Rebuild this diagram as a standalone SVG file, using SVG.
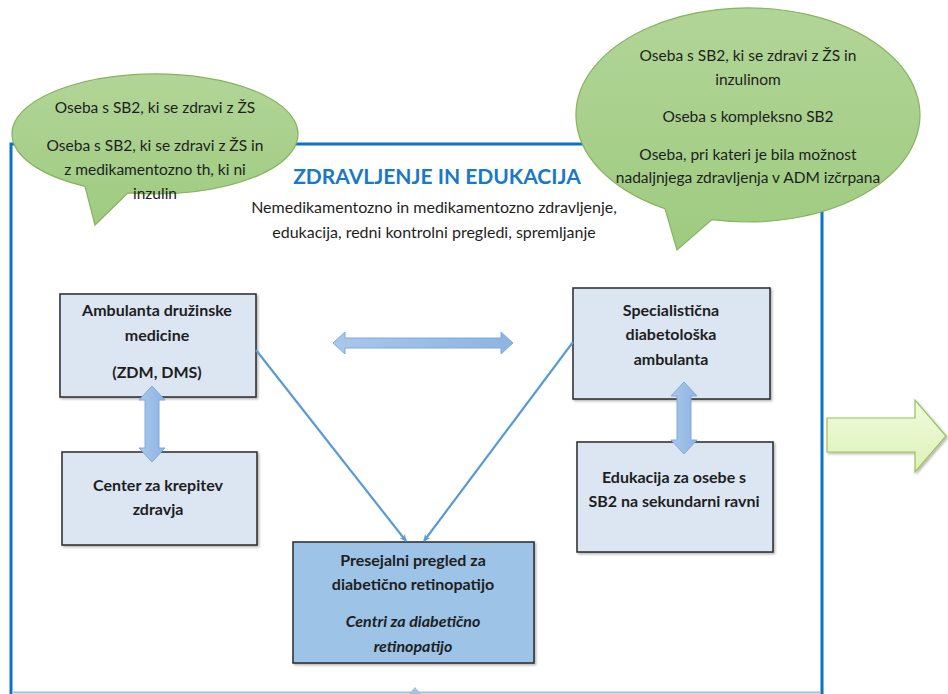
<svg xmlns="http://www.w3.org/2000/svg" width="948" height="694" viewBox="0 0 948 694">
<defs>
<style>
.t{font-family:Lato,"Liberation Sans",sans-serif;font-size:15.5px;fill:#1e1e1e;text-anchor:middle}
.b{font-weight:bold;font-size:16px}
.i{font-style:italic}
.box{fill:#dce6f2;stroke:#2a2a2a;stroke-width:1.5}
.bubble{fill:url(#gb);stroke:#86b35e;stroke-width:1.2}
.dbl{fill:url(#ga);stroke:#7fa9da;stroke-width:1}
.ln{stroke:#5b9bd5;stroke-width:2.2;fill:none}
.frame{fill:none;stroke:#0a72c8;stroke-width:3}
</style>
<linearGradient id="gb" x1="0" y1="0" x2="0" y2="1">
<stop offset="0" stop-color="#b1d597"/>
<stop offset="1" stop-color="#9fcb80"/>
</linearGradient>
<linearGradient id="ga" x1="0" y1="0" x2="1" y2="0">
<stop offset="0" stop-color="#a9c7ea"/>
<stop offset="1" stop-color="#8db4e2"/>
</linearGradient>
<linearGradient id="gg" x1="0" y1="0" x2="0" y2="1">
<stop offset="0" stop-color="#f1fadf"/>
<stop offset="1" stop-color="#dcf2b5"/>
</linearGradient>
<filter id="sh" x="-10%" y="-10%" width="130%" height="130%">
<feDropShadow dx="1.5" dy="1.5" stdDeviation="1.2" flood-color="#000" flood-opacity="0.3"/>
</filter>
<marker id="ah" viewBox="0 0 10 10" refX="9" refY="5" markerWidth="7" markerHeight="7" orient="auto" markerUnits="userSpaceOnUse">
<path d="M0,0 L10,5 L0,10 L3,5 Z" fill="#5b9bd5"/>
</marker>
</defs>

<g id="frame">
<path class="frame" d="M11,694 L11,144 L822,144 L822,694"/>
<line x1="12" y1="692.5" x2="820" y2="692.5" stroke="#9dc3e6" stroke-width="2"/>
<path d="M409,694 L415,687 L421,694 Z" fill="#9dc3e6"/>
</g>

<g id="bubble-left">
<path class="bubble" d="M85,186.3 A143,60 0 1,1 128,192.9 L95,225 Z"/>
<text class="t" x="155" y="113">Oseba s SB2, ki se zdravi z ŽS</text>
<text class="t" x="155" y="151">Oseba s SB2, ki se zdravi z ŽS in</text>
<text class="t" x="155" y="175">z medikamentozno th, ki ni</text>
<text class="t" x="155" y="199">inzulin</text>
</g>

<g id="bubble-right">
<path class="bubble" d="M665,208.7 A172,107 0 1,1 712,219.6 L677,250 Z"/>
<text class="t" x="748" y="61">Oseba s SB2, ki se zdravi z ŽS in</text>
<text class="t" x="748" y="85">inzulinom</text>
<text class="t" x="748" y="122">Oseba s kompleksno SB2</text>
<text class="t" x="748" y="160">Oseba, pri kateri je bila možnost</text>
<text class="t" x="748" y="183">nadaljnjega zdravljenja v ADM izčrpana</text>
</g>

<g id="title">
<text class="t" x="437" y="184" style="font-size:21px;font-weight:bold;fill:#1a78c9">ZDRAVLJENJE IN EDUKACIJA</text>
<text class="t" x="434" y="213" style="font-size:16px">Nemedikamentozno in medikamentozno zdravljenje,</text>
<text class="t" x="434" y="238" style="font-size:16px">edukacija, redni kontrolni pregledi, spremljanje</text>
</g>

<g id="adm">
<rect class="box" x="60" y="294" width="196" height="103" filter="url(#sh)"/>
<text class="t b" x="157" y="316">Ambulanta družinske</text>
<text class="t b" x="157" y="341">medicine</text>
<text class="t b" x="157" y="378">(ZDM, DMS)</text>
</g>

<g id="ckz">
<rect class="box" x="62" y="452" width="195" height="93" filter="url(#sh)"/>
<text class="t b" x="158" y="491">Center za krepitev</text>
<text class="t b" x="158" y="515">zdravja</text>
</g>

<g id="sda">
<rect class="box" x="573" y="288" width="197" height="111" filter="url(#sh)"/>
<text class="t b" x="671" y="316">Specialistična</text>
<text class="t b" x="671" y="340">diabetološka</text>
<text class="t b" x="671" y="365">ambulanta</text>
</g>

<g id="edu">
<rect class="box" x="577" y="442" width="196" height="110" filter="url(#sh)"/>
<text class="t b" x="674" y="483">Edukacija za osebe s</text>
<text class="t b" x="674" y="507">SB2 na sekundarni ravni</text>
</g>

<g id="presejalni">
<rect class="box" x="293" y="542" width="241" height="121" style="fill:#9dc3e6" filter="url(#sh)"/>
<text class="t b" x="413" y="566">Presejalni pregled za</text>
<text class="t b" x="413" y="590">diabetično retinopatijo</text>
<text class="t b i" x="413" y="627">Centri za diabetično</text>
<text class="t b i" x="413" y="652">retinopatijo</text>
</g>

<g id="connectors">
<line class="ln" x1="256" y1="350" x2="406" y2="541" marker-end="url(#ah)"/>
<line class="ln" x1="573" y1="342" x2="424" y2="541" marker-end="url(#ah)"/>
<path class="dbl" d="M333,343 L345,332 L345,338 L501,338 L501,332 L513,343 L501,354 L501,348 L345,348 L345,354 Z"/>
<path class="dbl" d="M152,386 L165,400 L159,400 L159,448 L165,448 L152,462 L139,448 L145,448 L145,400 L139,400 Z"/>
<path class="dbl" d="M684,382 L697,396 L691,396 L691,440 L697,440 L684,454 L671,440 L677,440 L677,396 L671,396 Z"/>
<path d="M827,418 L915,418 L915,400 L946,436 L915,472 L915,452 L827,452 Z" fill="url(#gg)" stroke="#9bc05a" stroke-width="1.2" filter="url(#sh)"/>
</g>
</svg>
